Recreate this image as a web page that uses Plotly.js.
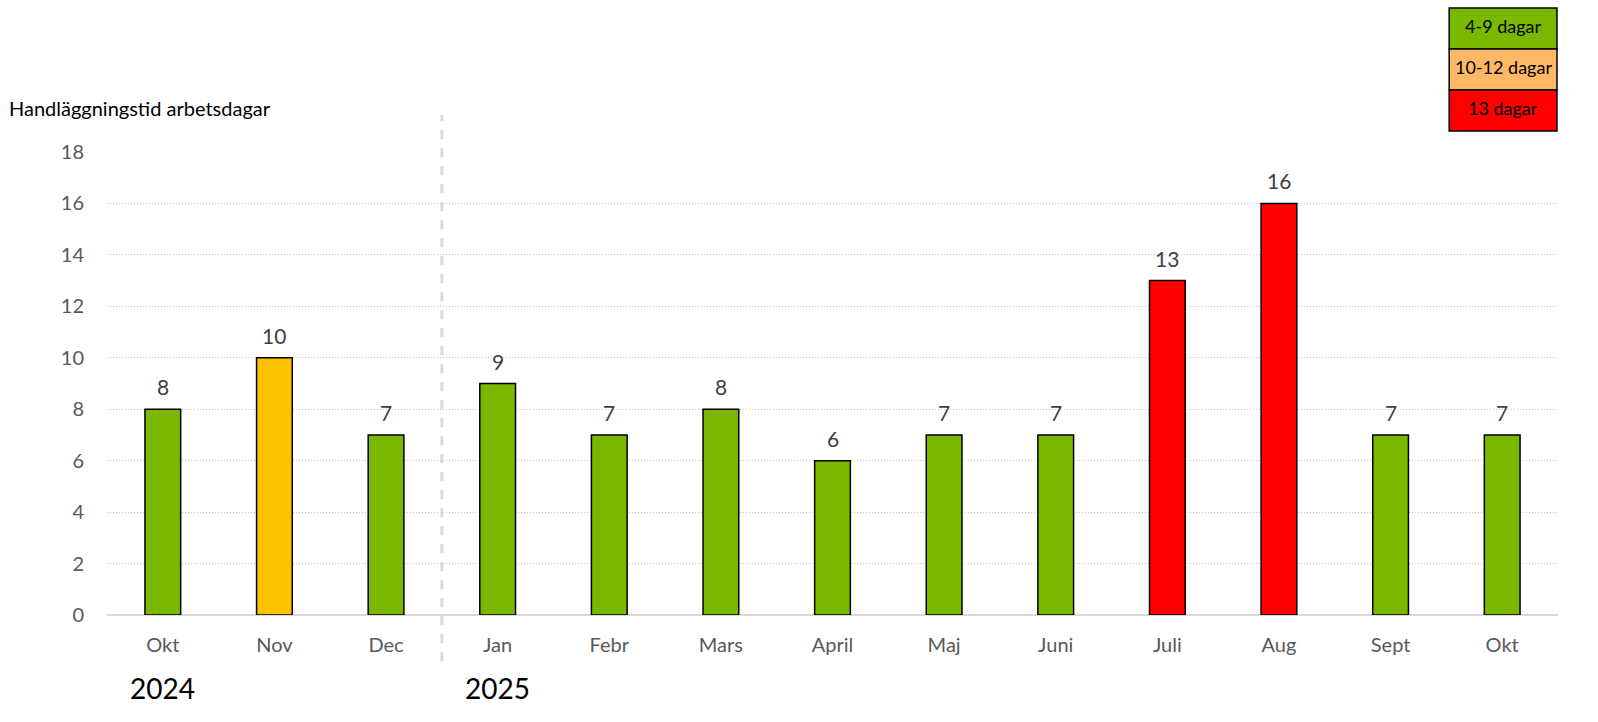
<!DOCTYPE html>
<html>
<head>
<meta charset="utf-8">
<script src="https://cdn.plot.ly/plotly-3.0.1.min.js"></script>
<style>
  html, body { margin: 0; padding: 0; background: #fff; overflow: hidden; width: 1598px; height: 722px; }
  #plot { width: 1598px; height: 722px; overflow: hidden; }
</style>
</head>
<body>
<div id="plot"></div>
<script>
// DATA =========================================================
var months = ['Okt', 'Nov', 'Dec', 'Jan', 'Febr', 'Mars', 'April', 'Maj', 'Juni', 'Juli', 'Aug', 'Sept', 'Okt'];
var days = [8, 10, 7, 9, 7, 8, 6, 7, 7, 13, 16, 7, 7];
var years = ['2024', '2025'];
var yearStart = [0, 3]; // index of first month in each year
var legendLabels = ['4-9 dagar', '10-12 dagar', '13 dagar'];
var legendColors = ['#7AB800', '#FFB966', '#FF0000'];

// colour per bar from the thresholds
function barColor(v) {
    if (v >= 13) return '#FF0000';
    if (v >= 10) return '#FFC000';
    return '#7AB800';
}

// Unique x keys so the two "Okt" stay separate
var xKeys = months.map(function (m, i) { return i; });

var font = 'Lato, "Open Sans", sans-serif';

var data = [{
    type: 'bar',
    x: xKeys,
    y: days,
    width: 0.32,
    marker: {
        color: days.map(barColor),
        line: { color: '#000', width: 1.5 }
    },
    hoverinfo: 'x+y',
    showlegend: false
}];

// LAYOUT =======================================================
var shapes = [{
    type: 'line',
    xref: 'x', yref: 'paper',
    x0: 2.5, x1: 2.5, y0: -0.1, y1: 1.08,
    line: { color: '#d9d9d9', width: 3, dash: 'dash' }
}];
var annotations = [{
    xref: 'paper', yref: 'paper',
    x: -0.069, y: 1.095, xanchor: 'left', yanchor: 'middle',
    text: 'Handläggningstid arbetsdagar',
    showarrow: false,
    font: { family: font, size: 20, color: '#000' }
}];

// value labels above the bars
days.forEach(function (v, i) {
    annotations.push({
        xref: 'x', yref: 'y',
        x: xKeys[i], y: v, yanchor: 'bottom', yshift: 8,
        text: String(v), showarrow: false,
        font: { family: font, size: 21, color: '#404040' }
    });
});

years.forEach(function (yr, i) {
    annotations.push({
        xref: 'x', yref: 'paper',
        x: yearStart[i], y: -0.158, xanchor: 'center', yanchor: 'middle',
        text: yr, showarrow: false,
        font: { family: font, size: 28, color: '#000' }
    });
});

// legend boxes in the top right corner
var boxTop = 1.311, boxH = 0.0885;
legendLabels.forEach(function (lbl, i) {
    var y1 = boxTop - i * boxH, y0 = y1 - boxH;
    shapes.push({
        type: 'rect', xref: 'paper', yref: 'paper',
        x0: 0.925, x1: 0.9993, y0: y0, y1: y1,
        fillcolor: legendColors[i],
        line: { color: '#000', width: 1.5 }
    });
    annotations.push({
        xref: 'paper', yref: 'paper',
        x: (0.925 + 0.9993) / 2, y: (y0 + y1) / 2 + 0.006,
        xanchor: 'center', yanchor: 'middle',
        text: lbl, showarrow: false,
        font: { family: font, size: 18, color: '#000' }
    });
});

var layout = {
    width: 1598,
    height: 722,
    margin: { l: 107, r: 40, t: 152, b: 107 },
    paper_bgcolor: '#fff',
    plot_bgcolor: '#fff',
    font: { family: font },
    xaxis: {
        type: 'category',
        tickmode: 'array',
        tickvals: xKeys,
        ticktext: months,
        range: [-0.5, 12.5],
        showgrid: false,
        zeroline: false,
        showline: false,
        ticks: '',
        ticklabelstandoff: 16,
        tickfont: { family: font, size: 20, color: '#595959' }
    },
    yaxis: {
        range: [0, 18],
        dtick: 2,
        showgrid: true,
        gridcolor: '#c4c4c4',
        griddash: '1px,2px',
        gridwidth: 1,
        zeroline: true,
        zerolinecolor: '#d9d9d9',
        zerolinewidth: 2,
        showline: false,
        ticks: '',
        ticklabelstandoff: 22,
        tickfont: { family: font, size: 20, color: '#595959' }
    },
    shapes: shapes,
    annotations: annotations
};

Plotly.newPlot('plot', data, layout, { displayModeBar: false, staticPlot: true });
</script>
</body>
</html>
